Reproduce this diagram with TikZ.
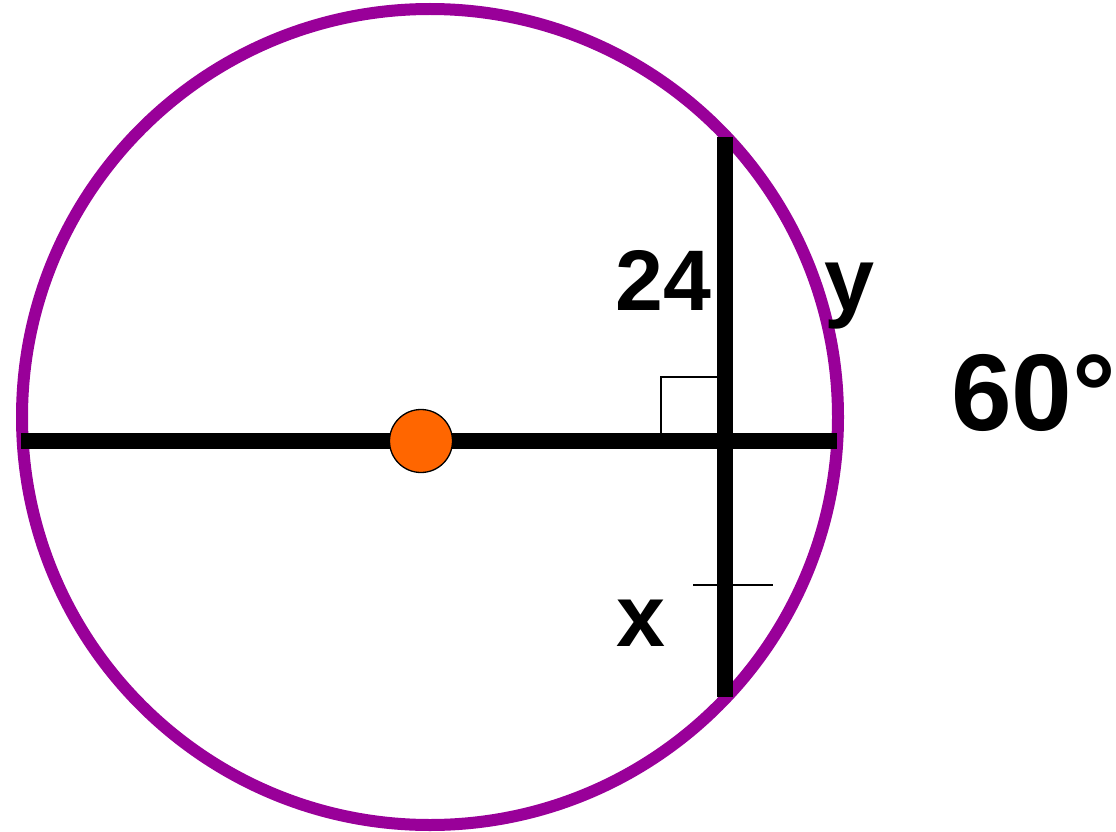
\documentclass[tikz,border=0pt]{standalone}
\usepackage{fontspec}
\setmainfont{Liberation Sans}
\usepackage{tikz}
\usetikzlibrary{calc}
\definecolor{rimpurple}{RGB}{153,0,153}
\definecolor{dotorange}{RGB}{255,102,0}

\begin{document}
\begin{tikzpicture}[
  x=1pt, y=-1pt,
  rim/.style={draw=rimpurple, line width=12pt},
  chord/.style={draw=black, line width=16pt, line cap=butt},
  thinmark/.style={draw=black, line width=1.4pt},
  lbl/.style={anchor=base west, inner sep=0pt, font=\bfseries}
]
\useasboundingbox (0,0) rectangle (1116,832);
\coordinate (O) at (430,417);
\draw[rim] (O) circle (408);
% chords
\coordinate (hl) at (21,441);
\coordinate (hr) at (837,441);
\coordinate (vt) at (725,137);
\coordinate (vb) at (725,697);
\draw[chord] (hl) -- (hr);
\draw[chord] (vt) -- (vb);
% right angle and tick
\draw[thinmark] (717,377) -- (661,377) -- (661,433);
\draw[thinmark] (693,585) -- (773,585);
% centre dot
\fill[dotorange, draw=black, line width=1.3pt] (421,441) circle (31.5);
\node[lbl, font=\fontsize{86}{90}\selectfont\bfseries] (n24) at (615,310) {24};
\node[lbl, font=\fontsize{90}{95}\selectfont\bfseries] (ny) at (824,310) {y};
\node[lbl, font=\fontsize{88}{92}\selectfont\bfseries] (nx) at (616,646) {x};
\node[lbl, font=\fontsize{109}{115}\selectfont\bfseries] (nang) at (951,430) {60°};
\end{tikzpicture}
\end{document}
